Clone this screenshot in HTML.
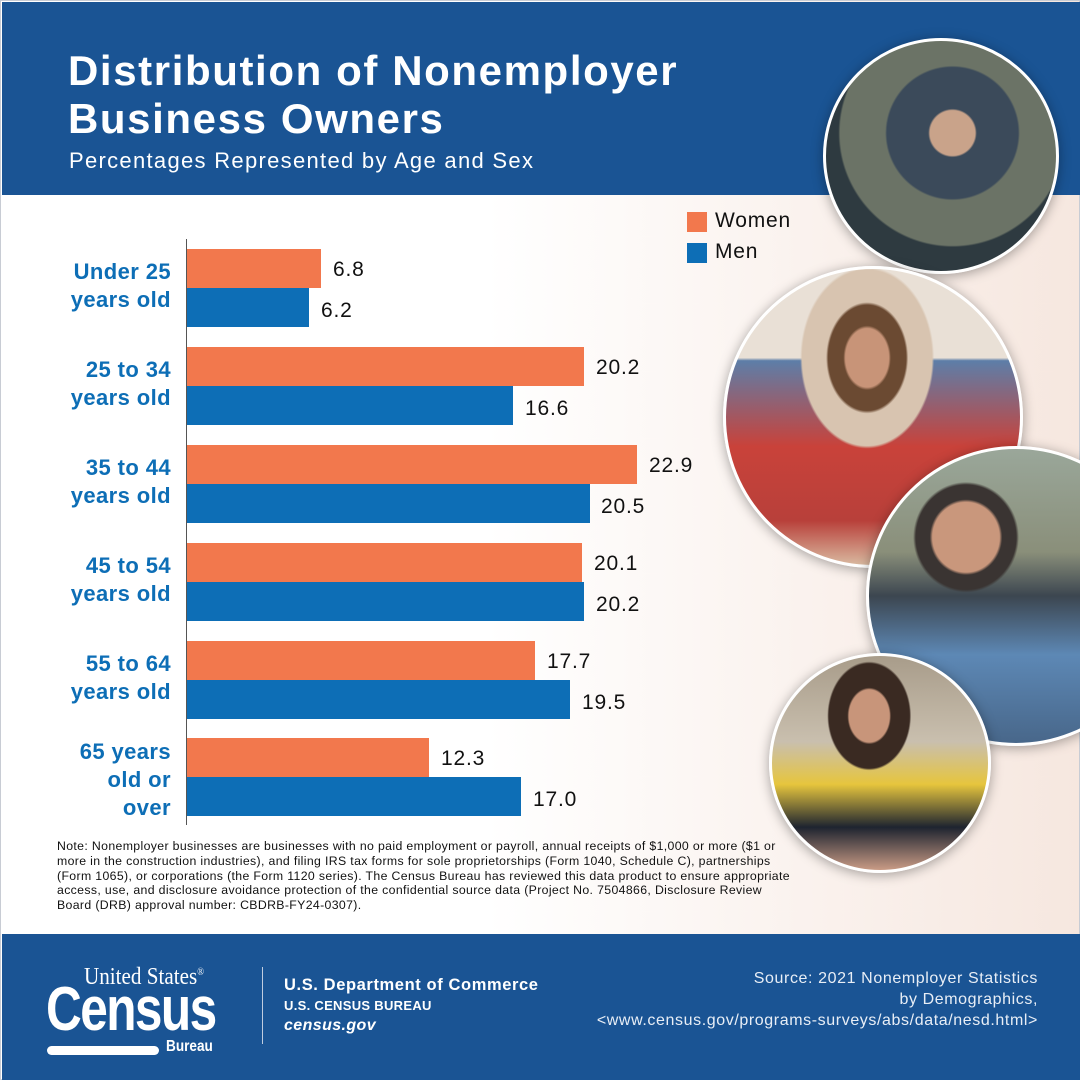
<!DOCTYPE html>
<html><head><meta charset="utf-8"><style>
*{margin:0;padding:0;box-sizing:border-box}
body{width:1080px;height:1080px;position:relative;overflow:hidden;font-family:"Liberation Sans",sans-serif;background:linear-gradient(90deg,#ffffff 0%,#ffffff 45%,#f6e7df 100%);border:1px solid #c8ccd4}
.hdr{position:absolute;left:1px;top:1px;width:1078px;height:193px;background:#1a5494}
.t{position:absolute;left:67px;color:#fff;font-weight:bold;font-size:42px;letter-spacing:1.6px}
.sub{position:absolute;left:68px;top:147px;color:#fff;font-size:22px;letter-spacing:1.3px}
.ax{position:absolute;left:185px;top:238px;width:1px;height:586px;background:#555}
.bar{position:absolute;left:186px;height:39px}
.o{background:#f2784d}.b{background:#0d6eb6}
.v{position:absolute;font-size:21px;color:#111;letter-spacing:0.8px}
.lab{position:absolute;right:908px;text-align:right;color:#0d6eb6;font-weight:bold;font-size:22px;line-height:28px;letter-spacing:0.4px}
.leg{position:absolute;width:20px;height:20px}
.lt{position:absolute;font-size:21px;color:#111;letter-spacing:0.8px}
.circ{position:absolute;border-radius:50%;border:3px solid #fff;box-shadow:0 2px 12px rgba(0,0,0,.35)}
.note{position:absolute;left:56px;top:838px;width:735px;font-size:12.3px;line-height:14.8px;color:#111;letter-spacing:0.35px}
.ftr{position:absolute;left:1px;top:933px;width:1078px;height:146px;background:#1a5494;color:#fff}
</style></head><body>
<div class="hdr"></div>
<div class="t" style="top:46px">Distribution of Nonemployer</div>
<div class="t" style="top:94px">Business Owners</div>
<div class="sub">Percentages Represented by Age and Sex</div>

<div class="circ" style="left:822px;top:37px;width:236px;height:236px;background:radial-gradient(circle at 55% 40%,#c9a38a 0 12%,#3b4a5a 13% 35%,#6b7366 36% 60%,#2e3a40 61%)"></div>
<div class="circ" style="left:722px;top:265px;width:300px;height:302px;background:radial-gradient(ellipse at 48% 30%,#c89478 0 10%,#6b4a32 11% 18%,#d8c4b0 19% 30%,transparent 31%),linear-gradient(180deg,#e9e0d6 0%,#e9e0d6 30%,#5d7ea8 31%,#c9423a 60%,#b8403a 85%,#d9b9a0 100%)"></div>
<div class="circ" style="left:865px;top:445px;width:300px;height:300px;background:radial-gradient(ellipse at 33% 30%,#c9977c 0 12%,#3a3432 13% 18%,transparent 19%),linear-gradient(180deg,#9aa79a 0%,#8a8f7a 35%,#3c4650 50%,#5d88b5 70%,#48678a 100%)"></div>
<div class="circ" style="left:768px;top:652px;width:222px;height:220px;background:radial-gradient(ellipse at 45% 28%,#c8957a 0 12%,#3a2a22 13% 24%,transparent 25%),linear-gradient(180deg,#a89c8a 0%,#c9bfae 40%,#e6c53d 60%,#1e2430 80%,#c99b85 100%)"></div>

<div class="leg o" style="left:686px;top:211px"></div><div class="lt" style="left:714px;top:208px">Women</div>
<div class="leg b" style="left:686px;top:242px"></div><div class="lt" style="left:714px;top:239px">Men</div>

<div class="ax"></div>
<div class="bar o" style="top:248px;width:134px"></div><div class="v" style="left:332px;top:257px">6.8</div>
<div class="bar b" style="top:287px;width:122px"></div><div class="v" style="left:320px;top:298px">6.2</div>
<div class="bar o" style="top:346px;width:397px"></div><div class="v" style="left:595px;top:355px">20.2</div>
<div class="bar b" style="top:385px;width:326px"></div><div class="v" style="left:524px;top:396px">16.6</div>
<div class="bar o" style="top:444px;width:450px"></div><div class="v" style="left:648px;top:453px">22.9</div>
<div class="bar b" style="top:483px;width:403px"></div><div class="v" style="left:600px;top:494px">20.5</div>
<div class="bar o" style="top:542px;width:395px"></div><div class="v" style="left:593px;top:551px">20.1</div>
<div class="bar b" style="top:581px;width:397px"></div><div class="v" style="left:595px;top:592px">20.2</div>
<div class="bar o" style="top:640px;width:348px"></div><div class="v" style="left:546px;top:649px">17.7</div>
<div class="bar b" style="top:679px;width:383px"></div><div class="v" style="left:581px;top:690px">19.5</div>
<div class="bar o" style="top:737px;width:242px"></div><div class="v" style="left:440px;top:746px">12.3</div>
<div class="bar b" style="top:776px;width:334px"></div><div class="v" style="left:532px;top:787px">17.0</div>

<div class="lab" style="top:257px">Under 25<br>years old</div>
<div class="lab" style="top:355px">25 to 34<br>years old</div>
<div class="lab" style="top:453px">35 to 44<br>years old</div>
<div class="lab" style="top:551px">45 to 54<br>years old</div>
<div class="lab" style="top:649px">55 to 64<br>years old</div>
<div class="lab" style="top:737px">65 years<br>old or<br>over</div>

<div class="note">Note: Nonemployer businesses are businesses with no paid employment or payroll, annual receipts of $1,000 or more ($1 or more in the construction industries), and filing IRS tax forms for sole proprietorships (Form 1040, Schedule C), partnerships (Form 1065), or corporations (the Form 1120 series). The Census Bureau has reviewed this data product to ensure appropriate access, use, and disclosure avoidance protection of the confidential source data (Project No. 7504866, Disclosure Review Board (DRB) approval number: CBDRB-FY24-0307).</div>

<div class="ftr">
 <div style="position:absolute;left:82px;top:30px;font-family:'Liberation Serif',serif;font-size:24px;transform:scaleX(0.88);transform-origin:left">United States<sup style="font-size:10px">®</sup></div>
 <div style="position:absolute;left:44px;top:40px;font-family:'Liberation Sans Narrow','Liberation Sans',sans-serif;font-weight:bold;font-size:62px;letter-spacing:-2px;transform:scaleX(0.8);transform-origin:left">Census</div>
 <div style="position:absolute;left:45px;top:112px;width:112px;height:9px;border-radius:5px;background:#fff"></div>
 <div style="position:absolute;left:164px;top:104px;font-weight:bold;font-size:16px;transform:scaleX(0.85);transform-origin:left">Bureau</div>
 <div style="position:absolute;left:260px;top:33px;width:1px;height:77px;background:#c0cde0"></div>
 <div style="position:absolute;left:282px;top:42px;font-weight:bold;font-size:16.5px;letter-spacing:0.6px">U.S. Department of Commerce</div>
 <div style="position:absolute;left:282px;top:64px;font-weight:bold;font-size:13px;letter-spacing:0.3px">U.S. CENSUS BUREAU</div>
 <div style="position:absolute;left:282px;top:83px;font-weight:bold;font-style:italic;font-size:16px;letter-spacing:0.4px">census.gov</div>
 <div style="position:absolute;right:42px;top:34px;text-align:right;font-size:16px;line-height:21px;color:#e8eef6;letter-spacing:0.6px">Source: 2021 Nonemployer Statistics<br>by Demographics,<br>&lt;www.census.gov/programs-surveys/abs/data/nesd.html&gt;</div>
</div>
</body></html>
